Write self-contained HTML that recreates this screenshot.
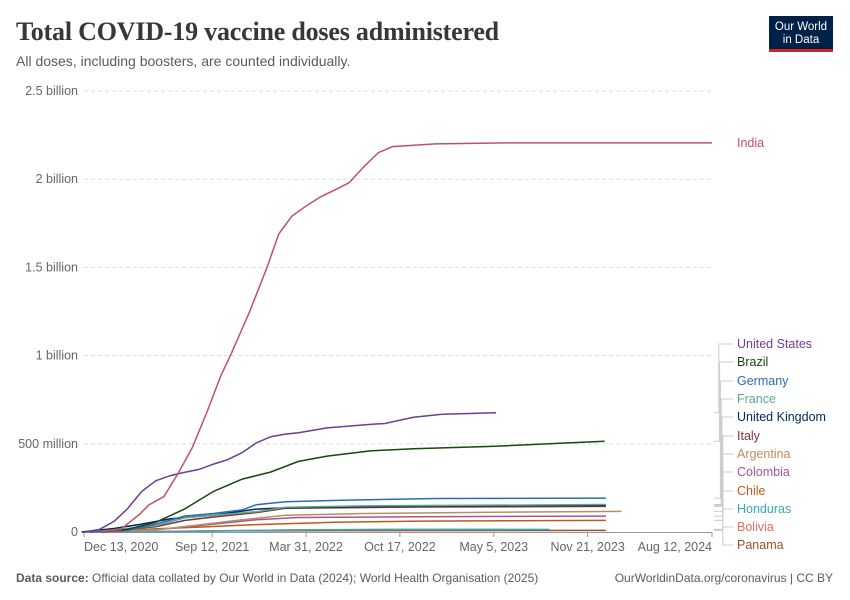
<!DOCTYPE html>
<html><head><meta charset="utf-8">
<style>
body{margin:0;background:#fff;font-family:"Liberation Sans",sans-serif;}
#wrap{position:relative;width:850px;height:600px;overflow:hidden;}
svg text{font-family:"Liberation Sans",sans-serif;}
</style></head>
<body>
<div id="wrap">
<svg id="chart" width="850" height="600">
<text x="16" y="40" font-size="26" font-weight="bold" fill="#373737" style="font-family:'Liberation Serif',serif;letter-spacing:-0.2px">Total COVID-19 vaccine doses administered</text>
<text x="16" y="66" font-size="14" fill="#5b5b5b">All doses, including boosters, are counted individually.</text>
<g>
<rect x="769" y="16" width="64" height="33" fill="#002147"/>
<rect x="769" y="49" width="64" height="3" fill="#ce261e"/>
<text x="801" y="30" font-size="11.5" fill="#fff" text-anchor="middle">Our World</text>
<text x="801" y="43" font-size="11.5" fill="#fff" text-anchor="middle">in Data</text>
</g>
<g id="grid"></g>
<g id="xaxis"></g>
<g id="series"></g>
<g id="legend"></g>
<text x="16" y="582" font-size="12" fill="#5b5b5b"><tspan font-weight="bold">Data source:</tspan> Official data collated by Our World in Data (2024); World Health Organisation (2025)</text>
<text x="833" y="582" font-size="12" fill="#5b5b5b" text-anchor="end">OurWorldinData.org/coronavirus | CC BY</text>
</svg>
</div>
<script>
const yTicks=[0,500,1000,1500,2000,2500];
const yTickLabels=["0","500 million","1 billion","1.5 billion","2 billion","2.5 billion"];
const xTicks=["2020-12-13","2021-09-12","2022-03-31","2022-10-17","2023-05-05","2023-11-21","2024-08-12"];
const xTickLabels=["Dec 13, 2020","Sep 12, 2021","Mar 31, 2022","Oct 17, 2022","May 5, 2023","Nov 21, 2023","Aug 12, 2024"];
const seriesNames=["India","United States","Brazil","Germany","France","United Kingdom","Italy","Argentina","Colombia","Chile","Honduras","Bolivia","Panama"];
const seriesColors=["#C15065","#6D3E91","#18470F","#286BBB","#58AC8C","#00295B","#883039","#BC8E5A","#A2559C","#C05917","#38AABA","#E56E5A","#9A5129"];
const india=[["2021-01-16",0],["2021-03-01",15],["2021-04-10",100],["2021-05-01",155],["2021-06-01",200],["2021-07-01",330],["2021-08-01",480],["2021-09-01",680],["2021-10-01",890],["2021-10-21",1000],["2021-12-01",1250],["2022-01-07",1500],["2022-02-01",1690],["2022-03-01",1790],["2022-04-01",1850],["2022-05-01",1900],["2022-06-01",1940],["2022-07-01",1980],["2022-08-01",2070],["2022-09-01",2150],["2022-10-01",2185],["2023-01-01",2200],["2023-06-01",2206],["2024-08-12",2206]];
const usa=[["2020-12-14",0],["2021-01-15",15],["2021-02-15",60],["2021-03-15",130],["2021-04-15",230],["2021-05-15",290],["2021-06-15",320],["2021-07-15",338],["2021-08-15",355],["2021-09-15",385],["2021-10-15",410],["2021-11-15",450],["2021-12-15",505],["2022-01-15",540],["2022-02-15",555],["2022-03-15",563],["2022-05-15",590],["2022-08-15",610],["2022-09-15",615],["2022-11-15",650],["2023-01-15",668],["2023-05-10",676]];
const brazil=[["2021-01-17",0],["2021-03-15",15],["2021-05-15",55],["2021-07-15",130],["2021-09-15",230],["2021-11-15",300],["2022-01-15",340],["2022-03-15",400],["2022-05-15",430],["2022-08-15",460],["2022-11-15",472],["2023-05-01",485],["2023-12-27",515]];
const germany=[["2020-12-27",0],["2021-03-15",10],["2021-05-15",45],["2021-07-15",90],["2021-09-15",105],["2021-11-15",125],["2021-12-15",155],["2022-02-15",172],["2022-06-15",180],["2023-01-01",190],["2023-12-30",192]];
const france=[["2020-12-27",0],["2021-05-15",35],["2021-07-15",80],["2021-09-15",95],["2021-12-15",115],["2022-02-15",140],["2022-08-01",148],["2023-12-30",156]];
const uk=[["2020-12-08",0],["2021-02-15",20],["2021-04-15",45],["2021-06-15",75],["2021-09-15",95],["2021-12-15",130],["2022-02-15",138],["2022-12-01",148],["2023-12-30",151]];
const italy=[["2020-12-27",0],["2021-05-15",30],["2021-07-15",65],["2021-09-15",85],["2021-12-15",110],["2022-02-15",135],["2022-12-01",142],["2023-12-30",145]];
const argentina=[["2020-12-29",0],["2021-05-15",12],["2021-08-15",40],["2021-11-15",70],["2022-02-15",95],["2022-08-01",105],["2023-06-01",113],["2024-02-01",117]];
const colombia=[["2021-02-17",0],["2021-06-15",20],["2021-09-15",45],["2021-12-15",70],["2022-03-15",82],["2022-12-01",87],["2023-12-30",90]];
const chile=[["2020-12-24",0],["2021-04-15",15],["2021-08-15",28],["2021-12-15",42],["2022-06-01",55],["2022-12-01",62],["2023-12-30",66]];
const honduras=[["2021-02-25",0],["2021-09-15",5],["2022-03-15",12],["2022-10-01",15],["2023-09-01",15]];
const bolivia=[["2021-01-29",0],["2021-09-15",7],["2022-03-15",12],["2022-10-01",14],["2023-06-01",14]];
const panama=[["2021-01-20",0],["2021-10-15",6],["2022-06-01",8],["2023-12-30",9]];
const seriesData=[india,usa,brazil,germany,france,uk,italy,argentina,colombia,chile,honduras,bolivia,panama];

const NS="http://www.w3.org/2000/svg";
const X0=84,X1=712,Y0=532,Y1=91;
const d0=Date.parse("2020-12-13"),d1=Date.parse("2024-08-12");
function xs(s){return X0+(Date.parse(s)-d0)/(d1-d0)*(X1-X0);}
function ys(v){return Y0-v/2500*(Y0-Y1);}
function mk(tag,attrs,parent){const e=document.createElementNS(NS,tag);for(const k in attrs)e.setAttribute(k,attrs[k]);parent.appendChild(e);return e;}

const grid=document.getElementById('grid');
yTicks.forEach((t,i)=>{
  const y=ys(t);
  if(t>0){const l=mk('line',{x1:84,x2:712,y1:y,y2:y,stroke:'#ddd','stroke-dasharray':'4,3'},grid);
  
  }
  const tx=mk('text',{x:78,y:y+4,'font-size':12.5,fill:'#666','text-anchor':'end'},grid);
  tx.textContent=yTickLabels[i];
  
  
});
const xa=document.getElementById('xaxis');
const base=mk('line',{x1:84,x2:712,y1:532.5,y2:532.5,stroke:'#999'},xa);


xTicks.forEach((t,i)=>{
  const x=xs(t);
  const tk=mk('line',{x1:x,x2:x,y1:532,y2:537,stroke:'#999'},xa);
  
  
  const anchor=i===0?'start':(i===xTicks.length-1?'end':'middle');
  const tx=mk('text',{x:x,y:551,'font-size':12.5,fill:'#666','text-anchor':anchor},xa);
  tx.textContent=xTickLabels[i];
  
  
});
const sg=document.getElementById('series');
for(let i=seriesData.length-1;i>=0;i--){
  const d=seriesData[i].map((p,j)=>(j?'L':'M')+xs(p[0]).toFixed(1)+','+ys(p[1]).toFixed(1)).join('');
  const p=mk('path',{d:d,fill:'none',stroke:seriesColors[i],'stroke-width':1.5},sg);
  
  
}
const lg=document.getElementById('legend');
const labelY=[143,344,362,381,399,417,436,454,472,491,509,527,545];
seriesNames.forEach((n,i)=>{
  const last=seriesData[i][seriesData[i].length-1];
  const ey=ys(last[1]);
  const ly=labelY[i];
  if(i>0){
    const vx=718+Math.min(i,6)*0.8;
    const c=mk('path',{d:'M714,'+ey.toFixed(1)+'H'+vx+'V'+ly+'H733',fill:'none',stroke:'#ccc','stroke-width':1},lg);
    
    
  }
  const t=mk('text',{x:737,y:ly+4,'font-size':12.5,fill:seriesColors[i]},lg);
  t.textContent=n;
  
  
});
</script>
</body></html>
